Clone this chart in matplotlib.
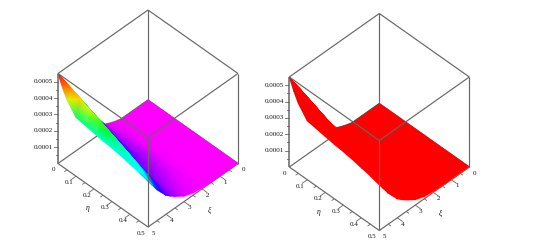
from __future__ import annotations

import matplotlib

matplotlib.use("Agg")

import matplotlib.pyplot as plt
import matplotlib.tri as mtri
import numpy as np
from matplotlib.colors import LinearSegmentedColormap, ListedColormap

WIDTH, HEIGHT = 552, 243
DPI = 100
LINE = "#666666"
TEXT = "#111111"

ETA = [0, 0.025, 0.05, 0.1, 0.15, 0.2, 0.25, 0.3, 0.35, 0.4, 0.45, 0.5]
XI = [0, 0.5, 1, 1.5, 2, 2.5, 3, 3.5, 3.75, 4, 4.25, 4.5, 4.75, 5]
# surface height in units of 1e-5, one row per eta value
HEIGHTS = [
    [0, 0, 0, 0.0, 1.8, 4.3, 14.5, 24.7, 29.7, 34.8, 39.8, 44.9, 49.9, 55.0],
    [0, 0, 0, 0.0, 1.8, 4.3, 13.4, 23.5, 28.5, 33.6, 38.6, 43.7, 48.8, 48.3],
    [0, 0, 0, 0.1, 1.9, 4.9, 12.2, 22.3, 27.3, 32.4, 37.5, 42.5, 47.5, 42.8],
    [0, 0, 0, 0.2, 2.0, 5.2, 9.8, 19.9, 25.0, 30.1, 35.1, 40.1, 45.2, 36.0],
    [0, 0, 0, 0.3, 2.0, 5.5, 8.6, 17.6, 22.6, 27.7, 32.8, 37.8, 42.8, 35.1],
    [0, 0, 0, 0.3, 2.0, 5.5, 8.6, 15.3, 20.3, 25.4, 30.4, 35.4, 40.5, 34.2],
    [0, 0, 0, 0.3, 1.8, 5.2, 8.6, 12.9, 18.0, 23.0, 28.1, 33.1, 38.2, 33.3],
    [0, 0, 0, 0.3, 1.5, 4.6, 7.6, 10.7, 15.6, 20.7, 25.7, 30.7, 35.8, 32.7],
    [0, 0, 0, 0.2, 1.3, 4.0, 6.7, 9.8, 13.5, 18.3, 23.4, 28.4, 33.4, 31.8],
    [0, 0, 0, 0.2, 1.1, 3.1, 5.5, 8.9, 11.5, 15.9, 21.0, 26.0, 31.1, 30.6],
    [0, 0, 0, 0.2, 0.9, 2.3, 4.3, 7.9, 10.4, 13.7, 18.6, 23.7, 27.5, 29.6],
    [0, 0, 0, 0.2, 0.7, 1.5, 3.4, 7.1, 9.2, 11.6, 15.3, 18.9, 23.5, 28.7],
]

ETA_MAX = 0.5
XI_MAX = 5
Z_MAX = 0.00055

ETA_TICKS = [0, 0.1, 0.2, 0.3, 0.4, 0.5]
ETA_MINOR = [0.05, 0.15, 0.25, 0.35, 0.45]
XI_TICKS = [0, 1, 2, 3, 4, 5]
XI_MINOR = [0.5, 1.5, 2.5, 3.5, 4.5]
Z_TICKS = [0.0001, 0.0002, 0.0003, 0.0004, 0.0005]
Z_MINOR = [0.00005, 0.00015, 0.00025, 0.00035, 0.00045]

ZHUE = LinearSegmentedColormap.from_list(
    "zhue",
    [
        (0.0, "#ff00ff"),
        (0.05, "#e800ff"),
        (0.18, "#8000ff"),
        (0.36, "#0000ff"),
        (0.50, "#00ffff"),
        (0.62, "#00ffc0"),
        (0.70, "#00ff00"),
        (0.80, "#ffff00"),
        (0.90, "#ff5000"),
        (1.0, "#ff0000"),
    ],
)
RED = ListedColormap(["#ff0000"])


def project(eta, xi, z):
    # orthographic view of the cube, in pixels from its far bottom corner
    a = np.asarray(eta, dtype=float) / ETA_MAX
    b = np.asarray(xi, dtype=float) / XI_MAX
    c = np.asarray(z, dtype=float) / Z_MAX
    return 90.0 * (a - b), 90.0 * c - 63.5 * (a + b)


def edge(ax, start, end, lw=0.85, zorder=1):
    x, y = project(*zip(start, end))
    ax.plot(x, y, color=LINE, lw=lw, solid_capstyle="butt", zorder=zorder, clip_on=False)


def draw_surface(ax, cmap):
    eta_grid, xi_grid = np.meshgrid(ETA, XI, indexing="ij")
    z_grid = np.array(HEIGHTS) * 1e-5
    x, y = project(eta_grid, xi_grid, z_grid)
    n_eta, n_xi = z_grid.shape
    triangles = []
    # far columns first so the front fold paints over the sheet behind it
    for j in range(n_xi - 1):
        for i in range(n_eta - 1):
            p = i * n_xi + j
            q = p + n_xi
            triangles.append([p, q, p + 1])
            triangles.append([q, q + 1, p + 1])
    tri = mtri.Triangulation(x.ravel(), y.ravel(), triangles)
    ax.tripcolor(tri, z_grid.ravel(), shading="gouraud", cmap=cmap, vmin=0, vmax=Z_MAX, zorder=2)


def draw_ticks(ax):
    for values, length in ((ETA_TICKS[1:-1], 0.06), (ETA_MINOR, 0.03)):
        for value in values:
            edge(ax, (value, XI_MAX, 0), (value, XI_MAX * (1 + length), 0), lw=0.6, zorder=3)
    for values, length in ((XI_TICKS[1:-1], 0.06), (XI_MINOR, 0.03)):
        for value in values:
            edge(ax, (ETA_MAX, value, 0), (ETA_MAX * (1 + length), value, 0), lw=0.6, zorder=3)
    x0, y0 = project(0, XI_MAX, 0)
    for values, length in ((Z_TICKS, 4.5), (Z_MINOR, 2.5)):
        for value in values:
            y = project(0, XI_MAX, value)[1]
            ax.plot([x0 - length, x0], [y, y], color=LINE, lw=0.6, zorder=3, clip_on=False)


def draw_labels(ax):
    style = {"fontsize": 5.0, "color": TEXT, "ha": "center", "va": "center"}
    for value in ETA_TICKS:
        x, y = project(value, XI_MAX, 0)
        label = "0" if value == 0 else f"{value:g}"
        ax.text(x - 6.8 if value else x - 5, y - 6.3, label, **style)
    for value in XI_TICKS:
        x, y = project(ETA_MAX, value, 0)
        ax.text(x + 5.5, y - 6.2, str(value), **style)
    x0, _ = project(0, XI_MAX, 0)
    for value in Z_TICKS:
        y = project(0, XI_MAX, value)[1]
        ax.text(x0 - 5.0, y, f"{value:.4f}", fontsize=5.0, color=TEXT, ha="right", va="center")
    x, y = project(0.3, XI_MAX, 0)
    ax.text(x - 24.5, y - 6.7, "η", fontsize=5.5, color=TEXT, style="italic", ha="center", va="center")
    x, y = project(ETA_MAX, 2.5, 0)
    ax.text(x + 16.5, y - 15.5, "ξ", fontsize=5.5, color=TEXT, style="italic", ha="center", va="center")


def draw_panel(fig, origin, cmap):
    ox, oy = origin
    left, top, size = ox - 125, oy - 105, 240
    ax = fig.add_axes([left / WIDTH, 1 - (top + size) / HEIGHT, size / WIDTH, size / HEIGHT])
    ax.set_xlim(-125, 115)
    ax.set_ylim(-135, 105)
    ax.axis("off")
    ax.patch.set_alpha(0)

    # back of the box, hidden by the surface
    edge(ax, (0, 0, 0), (0, 0, Z_MAX), zorder=1)
    edge(ax, (0, 0, 0), (0, XI_MAX, 0), zorder=1)
    edge(ax, (0, 0, 0), (ETA_MAX, 0, 0), zorder=1)
    edge(ax, (0, 0, Z_MAX), (0, XI_MAX, Z_MAX), zorder=1)
    edge(ax, (0, 0, Z_MAX), (ETA_MAX, 0, Z_MAX), zorder=1)
    edge(ax, (ETA_MAX, 0, 0), (ETA_MAX, 0, Z_MAX), zorder=1)

    draw_surface(ax, cmap)

    # front of the box, over the surface
    edge(ax, (ETA_MAX, XI_MAX, 0), (ETA_MAX, XI_MAX, Z_MAX), zorder=3)
    edge(ax, (0, XI_MAX, Z_MAX), (ETA_MAX, XI_MAX, Z_MAX), zorder=3)
    edge(ax, (ETA_MAX, 0, Z_MAX), (ETA_MAX, XI_MAX, Z_MAX), zorder=3)
    edge(ax, (0, XI_MAX, 0), (ETA_MAX, XI_MAX, 0), zorder=3)
    edge(ax, (ETA_MAX, 0, 0), (ETA_MAX, XI_MAX, 0), zorder=3)
    edge(ax, (0, XI_MAX, 0), (0, XI_MAX, Z_MAX), lw=1.1, zorder=3)

    draw_ticks(ax)
    draw_labels(ax)


def main() -> None:
    plt.rcParams["font.family"] = ["Liberation Serif", "DejaVu Serif"]
    fig = plt.figure(figsize=(WIDTH / DPI, HEIGHT / DPI), dpi=DPI)
    draw_panel(fig, (148.0, 100.0), ZHUE)
    draw_panel(fig, (379.3, 103.5), RED)
    fig.savefig("out.png", dpi=DPI)
    plt.close(fig)


if __name__ == "__main__":
    main()
